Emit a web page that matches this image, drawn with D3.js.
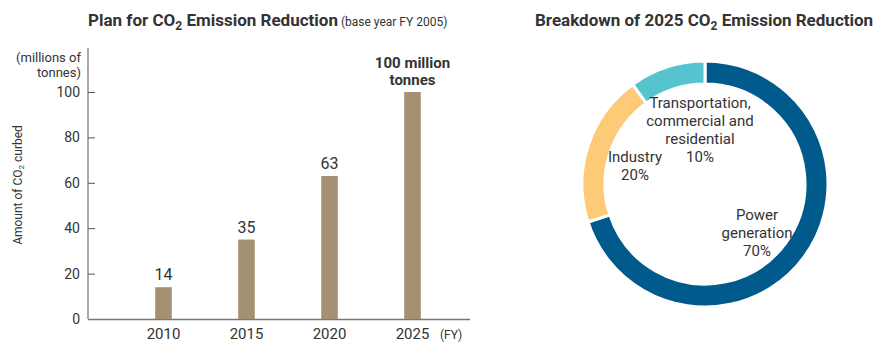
<!DOCTYPE html>
<html>
<head>
<meta charset="utf-8">
<script src="https://cdn.jsdelivr.net/npm/d3@7"></script>
<style>
  body { margin: 0; background: #fff; }
  svg text { font-family: "Roboto", sans-serif; fill: #333; }
</style>
</head>
<body>
<script>
const years = ["2010", "2015", "2020", "2025"]
const amounts = [14, 35, 63, 100]
const yTicks = [0, 20, 40, 60, 80, 100]

const sectors = ["Power generation", "Industry", "Transportation, commercial and residential"]
const shares = [70, 20, 10]
const sectorLabels = [["Power", "generation", "70%"], ["Industry", "20%"], ["Transportation,", "commercial and", "residential", "10%"]]

const w = 877
const h = 343

const svg = d3.select('body')
    .append('svg')
    .attr('width', w)
    .attr('height', h)

// ---- bar chart ----
const y = d3.scaleLinear()
    .domain([0, 100])
    .range([319, 92])

const x = d3.scaleBand()
    .domain(years)
    .range([122, 454])
    .paddingInner(0.8)
    .paddingOuter(0.4)

const title1 = svg.append('text')
    .attr('x', 88)
    .attr('y', 26)
    .style('font-size', '17px')
    .style('font-weight', 'bold')
title1.append('tspan').text('Plan for CO')
title1.append('tspan').text('2').style('font-size', '12px').attr('dy', 4)
title1.append('tspan').text(' Emission Reduction').attr('dy', -4)
title1.append('tspan').text(' (base year FY 2005)').style('font-size', '12px').style('font-weight', 'normal')

const yAxis = svg.append('g')
    .attr('transform', 'translate(88,0)')
    .call(d3.axisRight(y).tickValues(yTicks).tickSize(7).tickFormat(''))
yAxis.select('.domain').attr('d', 'M0,48V319').attr('stroke', '#555')
yAxis.selectAll('.tick line').attr('stroke', '#555')

svg.append('g')
    .selectAll('text')
    .data(yTicks)
    .enter()
    .append('text')
    .attr('x', 80)
    .attr('y', d => y(d) + 5)
    .attr('text-anchor', 'end')
    .style('font-size', '14px')
    .text(d => d)

svg.append('text')
    .attr('text-anchor', 'end')
    .style('font-size', '13px')
    .selectAll('tspan')
    .data(['(millions of', 'tonnes)'])
    .enter()
    .append('tspan')
    .attr('x', 81)
    .attr('y', (d, i) => 62 + i * 15)
    .text(d => d)

const yLabel = svg.append('text')
    .attr('transform', 'translate(22,185) rotate(-90)')
    .attr('text-anchor', 'middle')
    .style('font-size', '12px')
yLabel.append('tspan').text('Amount of CO')
yLabel.append('tspan').text('2').style('font-size', '8px').attr('dy', 2)
yLabel.append('tspan').text(' curbed').attr('dy', -2)

svg.append('line')
    .attr('x1', 88)
    .attr('x2', 470)
    .attr('y1', 319.5)
    .attr('y2', 319.5)
    .attr('stroke', '#777')
    .attr('stroke-width', 1.5)

svg.append('g')
    .selectAll('rect')
    .data(amounts)
    .enter()
    .append('rect')
    .attr('x', (d, i) => x(years[i]))
    .attr('width', x.bandwidth())
    .attr('y', d => y(d))
    .attr('height', d => y(0) - y(d))
    .attr('fill', '#a39171')

svg.append('g')
    .selectAll('text')
    .data(amounts.slice(0, 3))
    .enter()
    .append('text')
    .attr('x', (d, i) => x(years[i]) + x.bandwidth() / 2)
    .attr('y', d => y(d) - 7)
    .attr('text-anchor', 'middle')
    .style('font-size', '16px')
    .text(d => d)

svg.append('text')
    .attr('text-anchor', 'middle')
    .style('font-size', '15px')
    .style('font-weight', 'bold')
    .selectAll('tspan')
    .data([amounts[3] + ' million', 'tonnes'])
    .enter()
    .append('tspan')
    .attr('x', x(years[3]) + x.bandwidth() / 2)
    .attr('y', (d, i) => 68 + i * 17)
    .text(d => d)

svg.append('g')
    .selectAll('text')
    .data(years)
    .enter()
    .append('text')
    .attr('x', d => x(d) + x.bandwidth() / 2)
    .attr('y', 339)
    .attr('text-anchor', 'middle')
    .style('font-size', '15px')
    .text(d => d)

svg.append('text')
    .attr('x', 440)
    .attr('y', 339)
    .style('font-size', '12px')
    .text('(FY)')

// ---- donut ----
const title2 = svg.append('text')
    .attr('x', 535)
    .attr('y', 26)
    .style('font-size', '17px')
    .style('font-weight', 'bold')
title2.append('tspan').text('Breakdown of 2025 CO')
title2.append('tspan').text('2').style('font-size', '12px').attr('dy', 4)
title2.append('tspan').text(' Emission Reduction').attr('dy', -4)

const color = d3.scaleOrdinal()
    .domain(sectors)
    .range(['#005b8c', '#fdcb78', '#55c4ce'])

const pie = d3.pie().sort(null).value(d => d)
const arc = d3.arc().innerRadius(100).outerRadius(123)

const donut = svg.append('g')
    .attr('transform', 'translate(705,184)')

donut.selectAll('path')
    .data(pie(shares))
    .enter()
    .append('path')
    .attr('d', arc)
    .attr('fill', (d, i) => color(sectors[i]))
    .attr('stroke', '#fff')
    .attr('stroke-width', 3)

const labelPos = [[757, 220], [635, 162], [700, 108]]

sectorLabels.forEach((lines, i) => {
    svg.append('text')
        .attr('text-anchor', 'middle')
        .style('font-size', '15px')
        .selectAll('tspan')
        .data(lines)
        .enter()
        .append('tspan')
        .attr('x', labelPos[i][0])
        .attr('y', (d, j) => labelPos[i][1] + j * 18)
        .text(d => d)
})
</script>
</body>
</html>
